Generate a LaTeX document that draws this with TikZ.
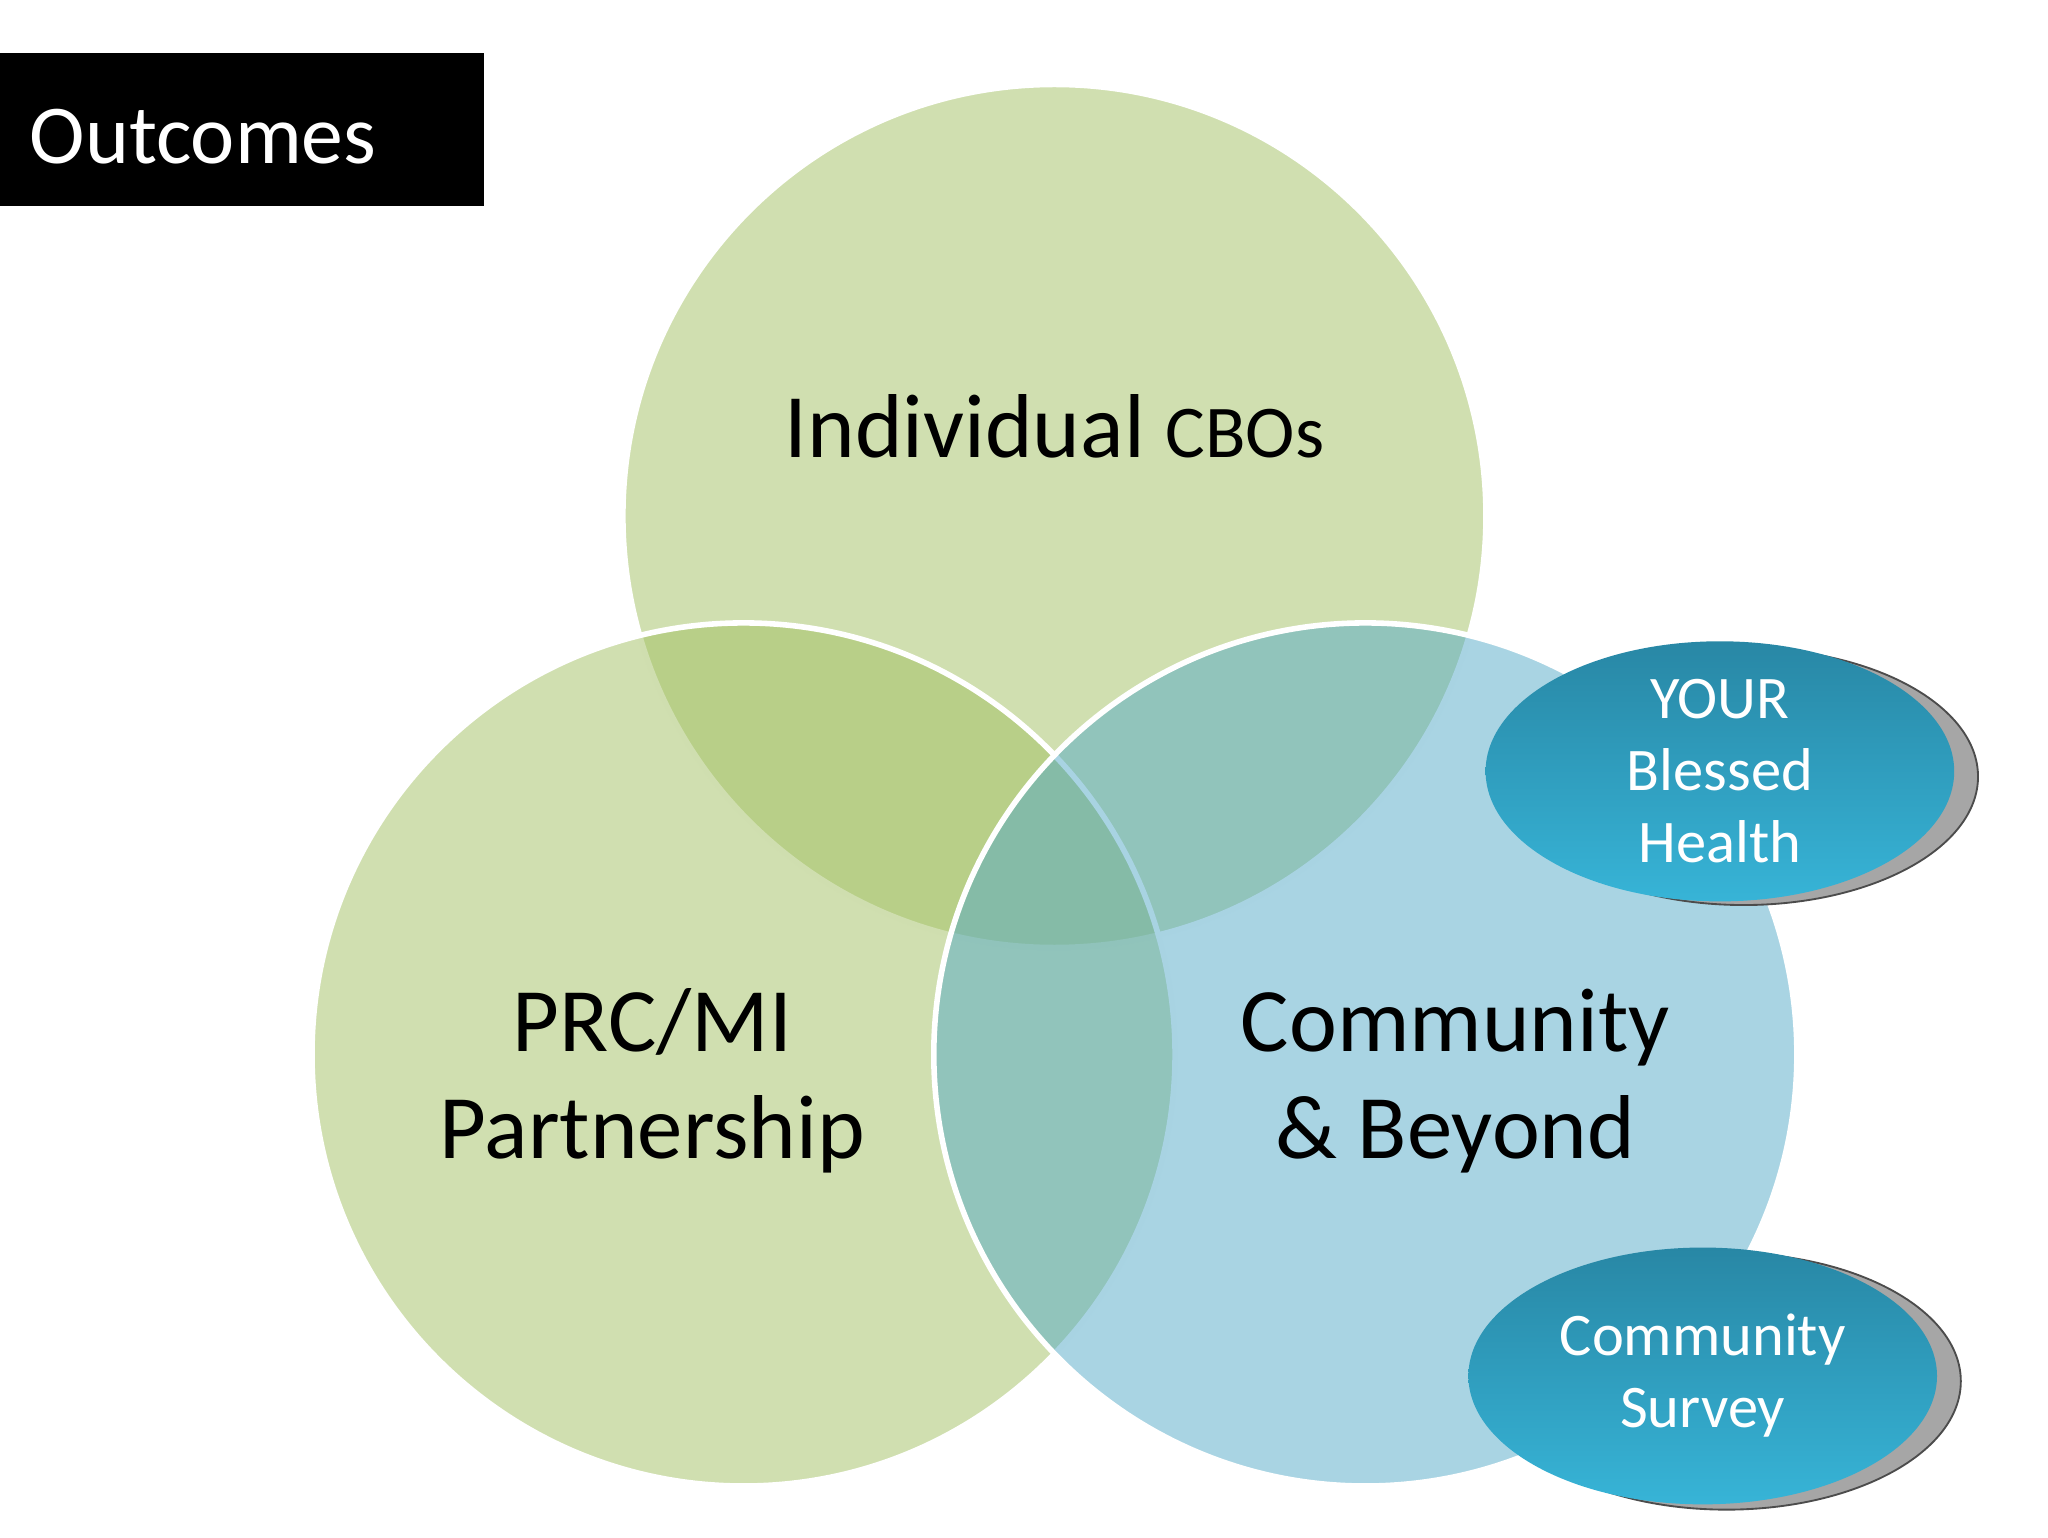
\documentclass[tikz,border=0pt]{standalone}
\usepackage{fontspec}
\setmainfont{Carlito}
\usetikzlibrary{shapes.geometric}
\definecolor{gr}{RGB}{161,191,97}
\definecolor{bl}{RGB}{83,169,199}
\definecolor{ttop}{RGB}{40,135,165}
\definecolor{tbot}{RGB}{55,180,215}
\tikzset{x=0.01cm,y=-0.01cm,
 venn/.style={circle,minimum size=6.52cm,inner sep=0,draw=white,line width=1.2pt,fill opacity=0.5,text opacity=1},
 oval/.style={ellipse,minimum width=3.54cm,minimum height=1.94cm,inner sep=0,top color=ttop,bottom color=tbot,draw=none,text=white,align=center,font=\fontsize{13}{15.5}\selectfont},
 shad/.style={ellipse,minimum width=3.54cm,minimum height=1.94cm,inner sep=0,fill=gray!70,draw=gray!60!black,line width=0.4pt},
 big/.style={font=\fontsize{19.5}{23}\selectfont,align=center}}
\begin{document}
\begin{tikzpicture}
\useasboundingbox (0,0) rectangle (1548,1162);
\node[venn,fill=gr] (top) at (797,390) {};
\node[venn,fill=gr] (left) at (562,797) {};
\node[venn,fill=bl] (right) at (1032,797) {};
\node[big] (t1) at (797,322) {Individual {\fontsize{16}{20}\selectfont CBOs}};
\node[big] (t2) at (493,817) {PRC/MI\\Partnership};
\node[big] (t3) at (1100,817) {Community\\\& Beyond};
\fill[black] (0,40) rectangle (366,156);
\node[font=\fontsize{18}{22}\selectfont,text=white,anchor=west] (oc) at (10,103) {Outcomes};
\node[shad] (s1) at (1318,587) {};
\node[oval] (e1) at (1300,583) {YOUR\\Blessed\\Health};
\node[shad] (s2) at (1305,1044) {};
\node[oval] (e2) at (1287,1040) {Community\\Survey};
\end{tikzpicture}
\end{document}
